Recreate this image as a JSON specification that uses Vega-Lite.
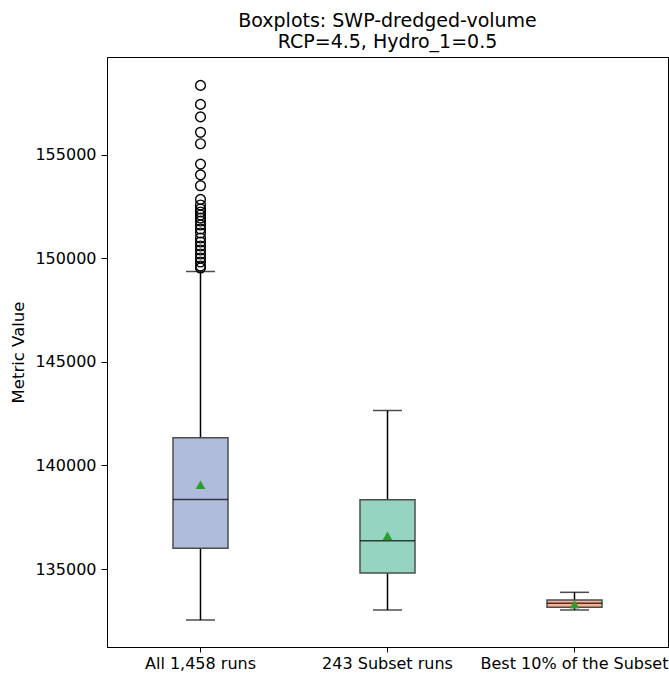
{
  "$schema": "https://vega.github.io/schema/vega-lite/v6.json",
  "autosize": {"type": "none"},
  "width": 561,
  "height": 590,
  "padding": {"left": 107, "top": 57, "right": 1, "bottom": 28},
  "title": {
    "text": ["Boxplots: SWP-dredged-volume", "RCP=4.5, Hydro_1=0.5"],
    "font": "DejaVu Sans",
    "fontSize": 19,
    "fontWeight": "normal",
    "color": "#000000",
    "anchor": "middle",
    "offset": 5,
    "lineHeight": 21
  },
  "config": {
    "view": {"stroke": "#000000", "strokeWidth": 1},
    "axis": {
      "labelFont": "DejaVu Sans",
      "labelFontSize": 16,
      "labelColor": "#000000",
      "labelLimit": 0,
      "titleFont": "DejaVu Sans",
      "titleFontSize": 16.5,
      "titleFontWeight": "normal",
      "titleColor": "#000000",
      "domainColor": "#000000",
      "tickColor": "#000000",
      "tickSize": 6,
      "grid": false
    }
  },
  "datasets": {
    "boxes": [
      {"group": "All 1,458 runs", "lo": 132537, "q1": 136000, "median": 138358, "q3": 141338, "hi": 149372, "mean": 139068},
      {"group": "243 Subset runs", "lo": 133020, "q1": 134807, "median": 136367, "q3": 138343, "hi": 142657, "mean": 136608},
      {"group": "Best 10% of the Subset", "lo": 133020, "q1": 133150, "median": 133343, "q3": 133503, "hi": 133874, "mean": 133300}
    ],
    "outliers": [
      {"group": "All 1,458 runs", "value": 158362},
      {"group": "All 1,458 runs", "value": 157444},
      {"group": "All 1,458 runs", "value": 156840},
      {"group": "All 1,458 runs", "value": 156096},
      {"group": "All 1,458 runs", "value": 155541},
      {"group": "All 1,458 runs", "value": 154560},
      {"group": "All 1,458 runs", "value": 154040},
      {"group": "All 1,458 runs", "value": 153517},
      {"group": "All 1,458 runs", "value": 152855},
      {"group": "All 1,458 runs", "value": 152585},
      {"group": "All 1,458 runs", "value": 152392},
      {"group": "All 1,458 runs", "value": 152247},
      {"group": "All 1,458 runs", "value": 152102},
      {"group": "All 1,458 runs", "value": 151957},
      {"group": "All 1,458 runs", "value": 151812},
      {"group": "All 1,458 runs", "value": 151619},
      {"group": "All 1,458 runs", "value": 151426},
      {"group": "All 1,458 runs", "value": 151233},
      {"group": "All 1,458 runs", "value": 150991},
      {"group": "All 1,458 runs", "value": 150798},
      {"group": "All 1,458 runs", "value": 150605},
      {"group": "All 1,458 runs", "value": 150411},
      {"group": "All 1,458 runs", "value": 150218},
      {"group": "All 1,458 runs", "value": 150025},
      {"group": "All 1,458 runs", "value": 149832},
      {"group": "All 1,458 runs", "value": 149639},
      {"group": "All 1,458 runs", "value": 149542}
    ]
  },
  "encoding": {
    "x": {
      "field": "group",
      "type": "nominal",
      "sort": ["All 1,458 runs", "243 Subset runs", "Best 10% of the Subset"],
      "scale": {"type": "band", "paddingInner": 0, "paddingOuter": 0},
      "axis": {"title": null, "labelAngle": 0, "labelPadding": 3, "tickSize": 5}
    }
  },
  "layer": [
    {
      "data": {"name": "boxes"},
      "mark": {"type": "rule", "color": "#000000", "strokeWidth": 1.5},
      "encoding": {
        "y": {"field": "lo", "type": "quantitative", "scale": {"domain": [131232, 159734], "nice": false, "zero": false}, "axis": {"title": "Metric Value", "values": [135000, 140000, 145000, 150000, 155000], "format": "d", "labelPadding": 5, "titlePadding": 8}},
        "y2": {"field": "hi"}
      }
    },
    {
      "data": {"name": "boxes"},
      "mark": {"type": "tick", "color": "#000000", "size": 29, "thickness": 1.5},
      "encoding": {"y": {"field": "lo", "type": "quantitative"}}
    },
    {
      "data": {"name": "boxes"},
      "mark": {"type": "tick", "color": "#000000", "size": 29, "thickness": 1.5},
      "encoding": {"y": {"field": "hi", "type": "quantitative"}}
    },
    {
      "data": {"name": "boxes"},
      "mark": {"type": "bar", "width": 55, "stroke": "#4d4d4d", "strokeWidth": 1.5},
      "encoding": {
        "y": {"field": "q1", "type": "quantitative"},
        "y2": {"field": "q3"},
        "fill": {
          "field": "group",
          "type": "nominal",
          "scale": {"domain": ["All 1,458 runs", "243 Subset runs", "Best 10% of the Subset"], "range": ["#afbcdb", "#94d4c0", "#fdaf91"]},
          "legend": null
        }
      }
    },
    {
      "data": {"name": "boxes"},
      "mark": {"type": "tick", "color": "#000000", "size": 55, "thickness": 1.5},
      "encoding": {"y": {"field": "median", "type": "quantitative"}}
    },
    {
      "data": {"name": "boxes"},
      "mark": {"type": "point", "shape": "triangle-up", "filled": true, "color": "#2ca02c", "size": 95, "opacity": 1},
      "encoding": {"y": {"field": "mean", "type": "quantitative"}}
    },
    {
      "data": {"name": "outliers"},
      "mark": {"type": "point", "shape": "circle", "filled": false, "color": "#000000", "size": 95, "strokeWidth": 1.4, "opacity": 1},
      "encoding": {"y": {"field": "value", "type": "quantitative"}}
    }
  ]
}
